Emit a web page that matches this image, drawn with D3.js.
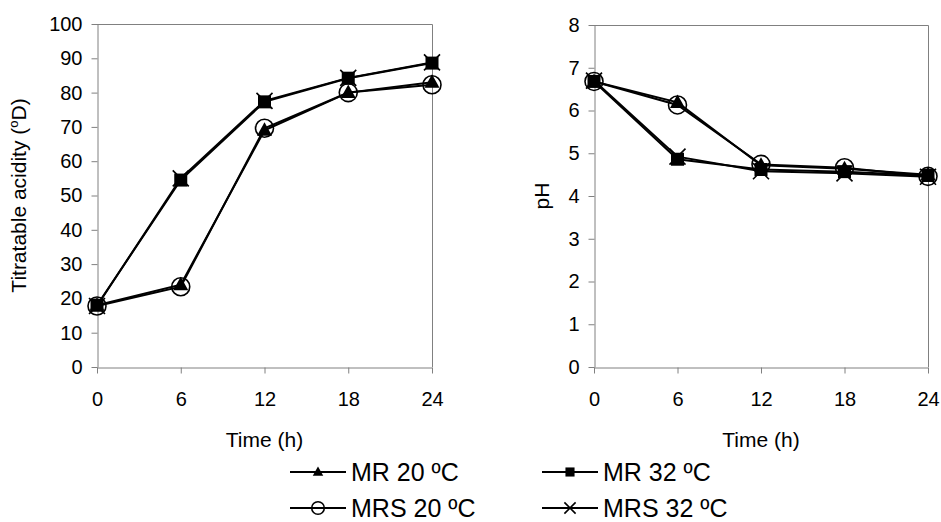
<!DOCTYPE html>
<html>
<head>
<meta charset="utf-8">
<script src="https://cdn.jsdelivr.net/npm/d3@7"></script>
<style>
body { margin: 0; background: #fff; }
text { font-family: "Liberation Sans", Arial, sans-serif; fill: #000; }
.axis path, .axis line { stroke: #808080; stroke-width: 1; }
.axis text { font-size: 20px; }
</style>
</head>
<body>
<script>
const width = 941;
const height = 522;

//-----------------------------DATA------------------------------//
const times = [0, 6, 12, 18, 24];
const seriesNames = ["MR 20 ºC", "MR 32 ºC", "MRS 20 ºC", "MRS 32 ºC"];
const seriesSymbols = ["triangle", "square", "circle", "cross"];

// titratable acidity (ºD)
const acidMR20 = [18, 24, 69, 80, 83];
const acidMR32 = [18, 54.5, 77.3, 84.2, 88.6];
const acidMRS20 = [17.8, 23.4, 69.6, 80, 82.3];
const acidMRS32 = [17.8, 55, 77.6, 84.3, 88.8];

// pH
const phMR20 = [6.68, 6.19, 4.72, 4.64, 4.5];
const phMR32 = [6.68, 4.86, 4.62, 4.57, 4.48];
const phMRS20 = [6.68, 6.13, 4.74, 4.66, 4.46];
const phMRS32 = [6.7, 4.92, 4.58, 4.53, 4.45];

const acidTicks = [0, 10, 20, 30, 40, 50, 60, 70, 80, 90, 100];
const phTicks = [0, 1, 2, 3, 4, 5, 6, 7, 8];

const svg = d3.select("body").append("svg")
  .attr("width", width).attr("height", height);

//----------------------------PANELS-----------------------------//
function drawPanel(x0, x1, y0, y1, yMax, yTicks, seriesData, yLabel, labelX) {
  const xScale = d3.scaleLinear().domain([0, 24]).range([x0, x1]);
  const yScale = d3.scaleLinear().domain([0, yMax]).range([y1, y0]);

  const g = svg.append("g");

  // plot frame top + right
  g.append("path")
    .attr("d", "M" + x0 + "," + (y0 + 0.5) + "H" + (x1 + 0.5) + "V" + y1)
    .attr("fill", "none").attr("stroke", "#808080");

  g.append("g").attr("class", "axis")
    .attr("transform", "translate(" + (x0 + 0.5) + ",0)")
    .call(d3.axisLeft(yScale).tickValues(yTicks).tickSize(6).tickSizeOuter(0).tickPadding(9));

  g.append("g").attr("class", "axis")
    .attr("transform", "translate(0," + (y1 + 0.5) + ")")
    .call(d3.axisBottom(xScale).tickValues(times).tickSize(6).tickSizeOuter(0).tickPadding(18));

  g.selectAll(".axis .domain").attr("stroke", "#808080");
  g.selectAll(".axis text").attr("fill", "#000");

  // axis titles
  g.append("text")
    .attr("x", (x0 + x1) / 2).attr("y", 447)
    .attr("text-anchor", "middle").style("font-size", "21px")
    .text("Time (h)");

  const yl = g.append("text")
    .attr("transform", "translate(" + labelX + "," + ((y0 + y1) / 2) + ") rotate(-90)")
    .attr("text-anchor", "middle").style("font-size", "21px");
  yLabel(yl);

  const line = d3.line()
    .x((d, i) => xScale(times[i]))
    .y(d => yScale(d));

  seriesData.forEach(function(vals) {
    g.append("path").attr("d", line(vals))
      .attr("fill", "none").attr("stroke", "#000").attr("stroke-width", 2);
  });

  seriesData.forEach(function(vals, k) {
    vals.forEach(function(v, i) {
      drawMarker(g, seriesSymbols[k], xScale(times[i]), yScale(v), 1);
    });
  });
}

function drawMarker(g, type, cx, cy, s) {
  if (type === "triangle") {
    g.append("path")
      .attr("d", "M" + cx + "," + (cy - 8 * s) + "L" + (cx + 7.5 * s) + "," + (cy + 5.5 * s) + "L" + (cx - 7.5 * s) + "," + (cy + 5.5 * s) + "Z")
      .attr("fill", "#000");
  } else if (type === "square") {
    g.append("rect").attr("x", cx - 6.5 * s).attr("y", cy - 6.5 * s)
      .attr("width", 13 * s).attr("height", 13 * s).attr("fill", "#000");
  } else if (type === "circle") {
    g.append("circle").attr("cx", cx).attr("cy", cy).attr("r", 9 * s)
      .attr("fill", "none").attr("stroke", "#000").attr("stroke-width", 1.6);
  } else {
    g.append("path")
      .attr("d", "M" + (cx - 8 * s) + "," + (cy - 8 * s) + "L" + (cx + 8 * s) + "," + (cy + 8 * s) +
                 "M" + (cx + 8 * s) + "," + (cy - 8 * s) + "L" + (cx - 8 * s) + "," + (cy + 8 * s))
      .attr("stroke", "#000").attr("stroke-width", 1.6);
  }
}

drawPanel(97, 432, 24, 367, 100, acidTicks,
  [acidMR20, acidMR32, acidMRS20, acidMRS32],
  function(t) {
    t.append("tspan").text("Titratable acidity (");
    t.append("tspan").attr("dy", -8).style("font-size", "13px").text("o");
    t.append("tspan").attr("dy", 8).text("D)");
  }, 26);

drawPanel(594, 928, 25, 367, 8, phTicks,
  [phMR20, phMR32, phMRS20, phMRS32],
  function(t) { t.text("pH"); }, 549);

//----------------------------LEGEND-----------------------------//
const legendX = [290, 542];
const legendY = [472, 508];

seriesNames.forEach(function(name, k) {
  const col = k % 2;
  const row = Math.floor(k / 2);
  const lx = legendX[col];
  const ly = legendY[row];
  const lg = svg.append("g");
  lg.append("line").attr("x1", lx).attr("x2", lx + 56)
    .attr("y1", ly).attr("y2", ly).attr("stroke", "#000").attr("stroke-width", 2);
  drawMarker(lg, seriesSymbols[k], lx + 28, ly, 0.7);
  lg.append("text").attr("x", lx + 61).attr("y", ly + 9)
    .style("font-size", "25px").text(name);
});
</script>
</body>
</html>
